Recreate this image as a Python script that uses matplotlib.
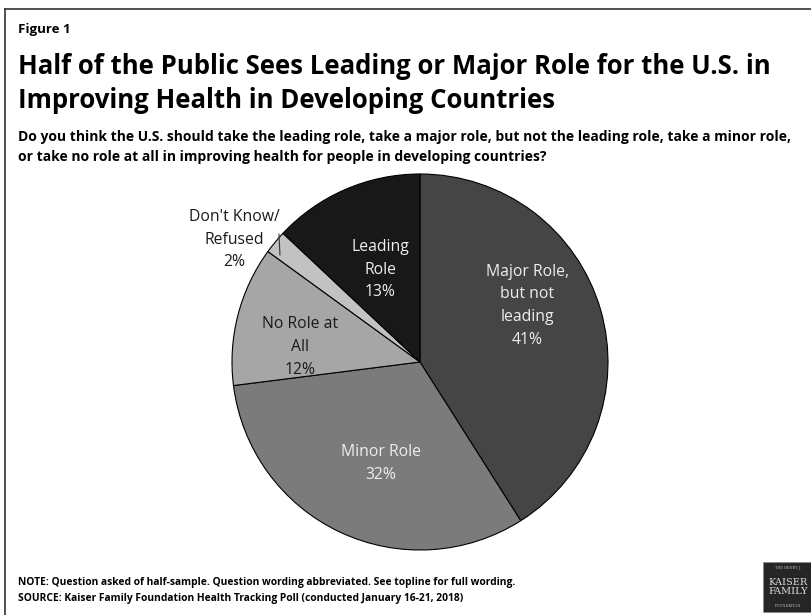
import matplotlib.pyplot as plt
from matplotlib.patches import Rectangle
from matplotlib.lines import Line2D

plt.rcParams['font.family'] = ['Open Sans', 'DejaVu Sans']

# Data
categories = ["Major Role,\nbut not\nleading", "Minor Role", "No Role at\nAll",
              "Don't Know/\nRefused", "Leading\nRole"]
shares = [41, 32, 12, 2, 13]
colors = ['#454545', '#7b7b7b', '#a6a6a6', '#c2c2c2', '#181818']
text_colors = ['#eeeeee', '#eeeeee', '#1a1a1a', '#1a1a1a', '#eeeeee']
# label positions inside the pie (data units, radius 1)
label_pos = [(0.57, 0.30), (-0.21, -0.54), (-0.64, 0.08), (-0.99, 0.65), (-0.21, 0.49)]

W, H = 812, 615
fig = plt.figure(figsize=(W / 100, H / 100), dpi=100)

# frame lines
fig.add_artist(Line2D([5 / W, 5 / W], [0, 1 - 9 / H], color='#333333', lw=1.2))
fig.add_artist(Line2D([5 / W, 1], [1 - 9 / H, 1 - 9 / H], color='#333333', lw=1.2))

# titles
fig.text(18 / W, 1 - 30 / H, "Figure 1", fontsize=9.5, fontweight='bold', va='center')
fig.text(18 / W, 1 - 67 / H, "Half of the Public Sees Leading or Major Role for the U.S. in",
         fontsize=18.5, fontweight='bold', va='center')
fig.text(18 / W, 1 - 100 / H, "Improving Health in Developing Countries",
         fontsize=18.5, fontweight='bold', va='center')
fig.text(18 / W, 1 - 137 / H,
         "Do you think the U.S. should take the leading role, take a major role, but not the leading role, take a minor role,",
         fontsize=10, fontweight='bold', va='center')
fig.text(18 / W, 1 - 157 / H,
         "or take no role at all in improving health for people in developing countries?",
         fontsize=10, fontweight='bold', va='center')

# pie
cx, cy, r = 420, 362, 188
ax = fig.add_axes([(cx - r) / W, (H - cy - r) / H, 2 * r / W, 2 * r / H])
wedges, _ = ax.pie(shares, colors=colors, startangle=90, counterclock=False,
                   wedgeprops=dict(edgecolor='black', linewidth=0.8))
ax.set_xlim(-1, 1)
ax.set_ylim(-1, 1)
ax.set_aspect('equal')
ax.axis('off')

for cat, val, (x, y), tc in zip(categories, shares, label_pos, text_colors):
    ax.text(x, y, f"{cat}\n{val}%", ha='center', va='center', color=tc,
            fontsize=11.3, linespacing=1.55, clip_on=False)

# leader line for the small slice
ax.plot([-0.745, -0.75], [0.57, 0.68], color='#333333', lw=0.8, clip_on=False)

# notes
fig.text(18 / W, 1 - 582 / H,
         "NOTE: Question asked of half-sample. Question wording abbreviated. See topline for full wording.",
         fontsize=7.4, fontweight='bold', va='center')
fig.text(18 / W, 1 - 598 / H,
         "SOURCE: Kaiser Family Foundation Health Tracking Poll (conducted January 16-21, 2018)",
         fontsize=7.4, fontweight='bold', va='center')

# logo
fig.add_artist(Rectangle((763 / W, 1 - 612 / H), 49 / W, 50 / H, facecolor='#262626',
                         edgecolor='#888888', lw=0.5))
fig.text(788 / W, 1 - 568 / H, "THE HENRY J.", color='#bbbbbb', fontsize=2.5,
         ha='center', va='center', family='DejaVu Serif')
fig.text(788 / W, 1 - 587 / H, "KAISER\nFAMILY", color='#dddddd', fontsize=7,
         ha='center', va='center', family='DejaVu Serif', linespacing=1.0)
fig.text(788 / W, 1 - 606 / H, "FOUNDATION", color='#bbbbbb', fontsize=2.5,
         ha='center', va='center', family='DejaVu Serif')

fig.savefig('out.png', dpi=100)
